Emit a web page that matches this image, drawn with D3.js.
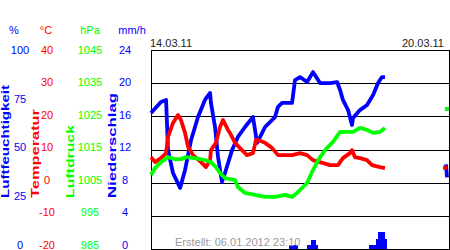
<!DOCTYPE html>
<html>
<head>
<meta charset="utf-8">
<script src="https://cdn.jsdelivr.net/npm/d3@7"></script>
<style>
body { margin: 0; background: #fff; }
svg { display: block; font-family: "Liberation Sans", Arial, sans-serif; }
</style>
</head>
<body>
<script>
// hours since 14.03.11 00:00, null = gap in the record
var humHours = [0, 5.6, 8.5, 9.6, 12.4, 16.4, 19.2, 22.6, 26.5, 30.4, 33.3, 33.8, 36.1, 37.8, 40.0, 41.7, 45.7, 49.0, 53.0, 57.5, 59.8, 64.3, 69.9, 71.6, 73.9, 79.5, 81.2, 84.0, 88.0, 91.3, 95.3, 100.9, 104.9, 106.6, 108.2, 111.1, 113.3, 113.9, 117.8, 121.8, 125.2, 128.0, 130.2, 131.9, 140, 166.3, 166.9];
var humValues = [68.3, 73.9, 74.9, 49.7, 38.2, 30.7, 39.7, 54.8, 66.3, 74.9, 78.4, 73.4, 61.3, 46.2, 33.7, 38.2, 49.7, 56.3, 61.3, 66.3, 53.3, 61.3, 66.3, 71.4, 73.4, 73.4, 84.9, 86.4, 83.9, 88.9, 83.4, 83.4, 83.9, 79.9, 74.9, 69.8, 62.3, 65.8, 69.8, 72.4, 77.4, 83.4, 86.4, 86.4, null, 42.5, 36];

var tempHours = [0, 2.3, 5.6, 8.5, 9.6, 12.4, 15.2, 16.9, 19.2, 20.9, 23.7, 28.2, 31.0, 33.3, 33.8, 36.6, 38.9, 40.6, 43.4, 44.5, 47.4, 51.3, 54.1, 57.5, 59.2, 60.3, 64.3, 68.2, 71.6, 79.5, 84.0, 88.0, 91.3, 95.3, 100.9, 105.4, 108.2, 112.2, 113.3, 115.0, 117.8, 121.8, 124.6, 129.1, 131.9, 140, 165.8];
var tempValues = [7.7, 6.2, 7.4, 8.9, 13.8, 18.0, 20.4, 18.9, 15.0, 10.8, 8.3, 6.2, 4.7, 6.8, 9.8, 12.0, 16.8, 18.9, 15.9, 15.0, 12.0, 9.8, 8.3, 8.9, 12.9, 12.9, 12.0, 10.5, 8.3, 8.3, 8.9, 8.3, 6.8, 6.2, 5.3, 5.3, 7.4, 8.9, 9.8, 7.7, 7.4, 6.8, 5.3, 4.7, 4.4, null, 4.5];

var presHours = [0, 2.3, 5.6, 9.6, 13.5, 16.9, 19.7, 24.8, 30.4, 33.8, 36.6, 38.9, 41.7, 47.4, 49.0, 53.0, 58.6, 64.3, 69.9, 75.5, 79.5, 82.9, 85.7, 88.0, 91.3, 95.3, 99.2, 102.6, 106.6, 113.9, 117.8, 121.8, 125.2, 129.1, 131.9, 140, 166.9];
var presValues = [1007.3, 1009.4, 1011.2, 1012.7, 1012.1, 1012.1, 1012.7, 1012.4, 1011.8, 1011.2, 1009.7, 1007.9, 1006.4, 1005.8, 1003.7, 1001.9, 1001.3, 1000.7, 1000.7, 1001.3, 1000.7, 1002.2, 1003.7, 1004.9, 1008.8, 1012.7, 1015.5, 1017.3, 1020.3, 1020.3, 1021.5, 1020.9, 1020.0, 1020.3, 1021.5, null, 1027.2];

var precHours = [78, 79, 80, 81, 82, 88, 89, 90, 91, 92, 93, 123, 124, 125, 126, 127, 128, 129, 130, 131, 132];
var precValues = [0.5, 0.5, 0.5, 0.5, 0.5, 0.5, 0.5, 1.1, 1.1, 1.1, 0.5, 0.5, 0.5, 0.5, 0.5, 1.2, 2, 2, 2, 2, 1.2];

var humTicks = [0, 25, 50, 75, 100];
var tempTicks = [-20, -10, 0, 10, 20, 30, 40];
var presTicks = [985, 995, 1005, 1015, 1025, 1035, 1045];
var precTicks = [0, 4, 8, 12, 16, 20, 24];
var startLabel = "14.03.11";
var endLabel = "20.03.11";
var createdLabel = "Erstellt: 06.01.2012 23:10";

var blue = "#0000ff", red = "#ff0000", green = "#00ff00";

var svg = d3.select("body").append("svg")
.attr("width", 450)
.attr("height", 250);

var x = d3.scaleLinear().domain([0, 168]).range([151, 449]);
var yHum = d3.scaleLinear().domain([0, 100]).range([249, 50]);
var yTemp = d3.scaleLinear().domain([-20, 40]).range([249, 50]);
var yPres = d3.scaleLinear().domain([985, 1045]).range([249, 50]);
var yPrec = d3.scaleLinear().domain([0, 24]).range([249, 50]);

// grid lines (one per temperature tick)
var grid = svg.append("g")
.attr("transform", "translate(151,0)")
.call(d3.axisLeft(yTemp).tickValues(tempTicks).tickSize(-298).tickFormat(""));
grid.select(".domain").remove();
grid.selectAll("line").attr("stroke", "#000").attr("shape-rendering", "crispEdges");

// left and right frame
[151, 449].forEach(function(px) {
  svg.append("line")
  .attr("x1", px + 0.5).attr("x2", px + 0.5)
  .attr("y1", 50).attr("y2", 249.5)
  .attr("stroke", "#000")
  .attr("shape-rendering", "crispEdges");
});

// precipitation bars
svg.selectAll("rect.prec")
.data(precHours.map(function(h, i) { return [h, precValues[i]]; }))
.enter().append("rect")
.attr("class", "prec")
.attr("x", function(d) { return x(d[0]); })
.attr("width", function(d) { return x(d[0] + 1) - x(d[0]); })
.attr("y", function(d) { return yPrec(d[1]); })
.attr("height", function(d) { return yPrec(0) - yPrec(d[1]); })
.attr("fill", blue)
.attr("shape-rendering", "crispEdges");

function drawSeries(hours, values, y, color) {
  var pts = hours.map(function(h, i) { return [h, values[i]]; });
  var line = d3.line()
  .defined(function(d) { return d[1] != null; })
  .x(function(d) { return x(d[0]); })
  .y(function(d) { return y(d[1]); });
  svg.append("path")
  .attr("d", line(pts))
  .attr("fill", "none")
  .attr("stroke", color)
  .attr("stroke-width", 3.8)
  .attr("stroke-linejoin", "round");
  // lone readings after a gap
  var lone = pts.filter(function(d, i) {
    return d[1] != null && (i == 0 || pts[i - 1][1] == null) && (i == pts.length - 1 || pts[i + 1][1] == null);
  });
  svg.selectAll(null).data(lone).enter().append("rect")
  .attr("x", function(d) { return x(d[0]) - 2; })
  .attr("y", function(d) { return y(d[1]) - 2; })
  .attr("width", 4).attr("height", 4)
  .attr("fill", color);
}

drawSeries(humHours, humValues, yHum, blue);
drawSeries(tempHours, tempValues, yTemp, red);
drawSeries(presHours, presValues, yPres, green);

// left hand scales
var columns = [
  { ticks: humTicks, domain: yHum.domain(), cx: 20, unit: "%", ux: 14, color: blue, title: "Luftfeuchtigkeit", tx: 9, len: 113 },
  { ticks: tempTicks, domain: yTemp.domain(), cx: 47, unit: "°C", ux: 46, color: red, title: "Temperatur", tx: 39, len: 89 },
  { ticks: presTicks, domain: yPres.domain(), cx: 90, unit: "hPa", ux: 90, color: green, title: "Luftdruck", tx: 74, len: 73 },
  { ticks: precTicks, domain: yPrec.domain(), cx: 125, unit: "mm/h", ux: 132, color: blue, title: "Niederschlag", tx: 116, len: 105 }
];

columns.forEach(function(c) {
  var ly = d3.scaleLinear().domain(c.domain).range([245, 50]);
  svg.selectAll(null).data(c.ticks).enter().append("text")
  .attr("x", c.cx)
  .attr("y", function(d) { return ly(d); })
  .attr("dy", "0.35em")
  .attr("text-anchor", "middle")
  .attr("font-size", 11)
  .attr("fill", c.color)
  .text(function(d) { return d; });

  svg.append("text")
  .attr("x", c.ux)
  .attr("y", 30)
  .attr("dy", "0.35em")
  .attr("text-anchor", "middle")
  .attr("font-size", 11)
  .attr("fill", c.color)
  .text(c.unit);

  svg.append("text")
  .attr("transform", "translate(" + c.tx + ",198) rotate(-90)")
  .attr("font-size", 11)
  .attr("font-weight", "bold")
  .attr("textLength", c.len)
  .attr("lengthAdjust", "spacingAndGlyphs")
  .attr("fill", c.color)
  .text(c.title);
});

svg.append("text")
.attr("x", 150).attr("y", 47)
.attr("font-size", 11)
.attr("fill", "#222")
.text(startLabel);

svg.append("text")
.attr("x", 444).attr("y", 47)
.attr("text-anchor", "end")
.attr("font-size", 11)
.attr("fill", "#222")
.text(endLabel);

svg.append("text")
.attr("x", 175).attr("y", 246)
.attr("font-size", 11)
.attr("fill", "#999")
.text(createdLabel);
</script>
</body>
</html>
